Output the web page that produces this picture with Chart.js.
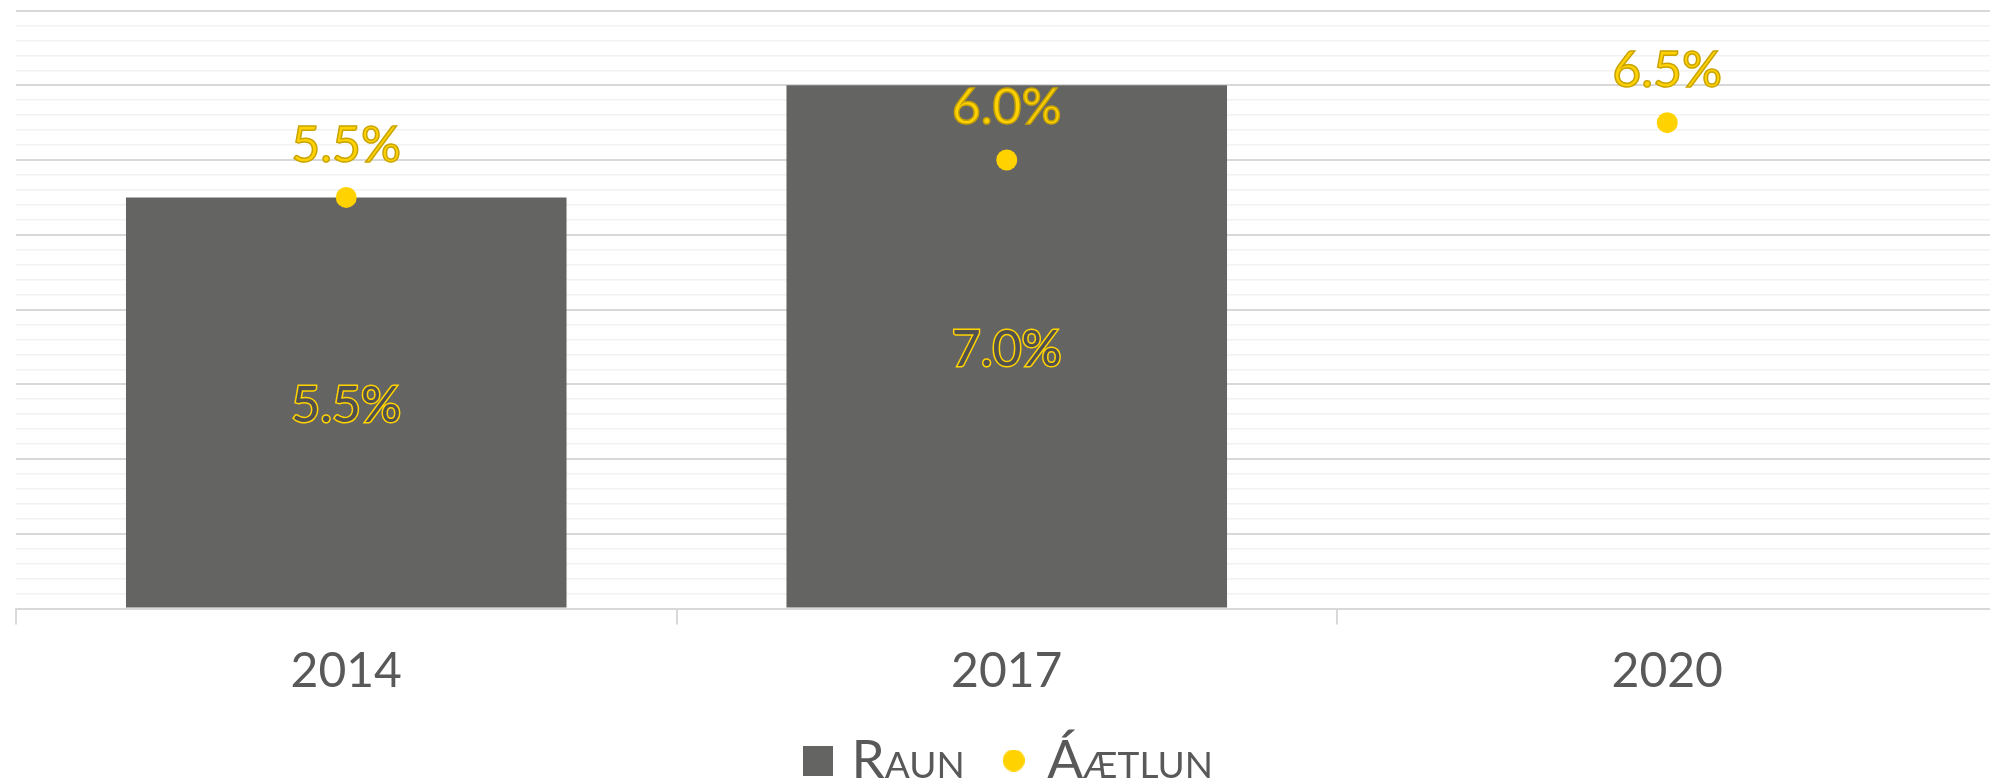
<!DOCTYPE html>
<html>
<head>
<meta charset="utf-8">
<script src="https://cdn.jsdelivr.net/npm/chart.js@4/dist/chart.umd.min.js"></script>
<style>
  html, body { margin: 0; padding: 0; background: #fff; overflow: hidden; }
  .wrap { width: 2008px; height: 782px; position: relative; }
</style>
</head>
<body>
<div class="wrap"><canvas id="chart"></canvas></div>
<script>
// data
const years = ['2014', '2017', '2020'];
const raun = [5.5, 7.0, null];
const aaetlun = [5.5, 6.0, 6.5];
const seriesNames = ['Raun', 'Áætlun'];
const yMin = 0;
const yMax = 8;

const GRAY = '#646463';
const YELLOW = '#FFD200';
const TEXT = '#595959';
const FONT = 'Lato';

// legend markers as small canvases so they can have their own size
function makeMarker(kind) {
    const c = document.createElement('canvas');
    const s = kind === 'rect' ? 30 : 22;
    c.width = s; c.height = s;
    const g = c.getContext('2d');
    if (kind === 'rect') {
        g.fillStyle = GRAY;
        g.fillRect(0, 0, s, s);
    } else {
        g.fillStyle = YELLOW;
        g.beginPath();
        g.arc(s / 2, s / 2, s / 2, 0, Math.PI * 2);
        g.fill();
    }
    return c;
}
const rectMarker = makeMarker('rect');
const dotMarker = makeMarker('dot');

// value labels on the bars and above the dots
const valueLabels = {
    id: 'valueLabels',
    afterDatasetsDraw(chart) {
        const ctx = chart.ctx;
        ctx.save();
        ctx.font = '50px ' + FONT;
        ctx.textAlign = 'center';
        ctx.textBaseline = 'middle';
        chart.data.datasets.forEach(function(ds, i) {
            const meta = chart.getDatasetMeta(i);
            meta.data.forEach(function(el, j) {
                const v = ds.data[j];
                if (v === null || v === undefined) return;
                const txt = v.toFixed(1) + '%';
                if (ds.type === 'line') {
                    const y = el.y - 52;
                    ctx.fillStyle = YELLOW;
                    ctx.fillText(txt, el.x, y);
                    ctx.lineWidth = 1.5;
                    ctx.strokeStyle = '#C9A400';
                    ctx.strokeText(txt, el.x, y);
                } else {
                    const y = (el.y + el.base) / 2 + 3;
                    ctx.lineWidth = 3;
                    ctx.strokeStyle = YELLOW;
                    ctx.strokeText(txt, el.x, y);
                    ctx.fillStyle = '#505050';
                    ctx.fillText(txt, el.x, y);
                }
            });
        });
        ctx.restore();
    }
};

// push the legend down to the bottom edge like the original
const legendPlace = {
    id: 'legendPlace',
    afterLayout(chart) {
        const lg = chart.legend;
        if (!lg) return;
        lg.top = 692;
        lg.bottom = chart.height;
        lg.height = lg.bottom - lg.top;
    }
};

const ctx = document.getElementById('chart').getContext('2d');
const chart = new Chart(ctx, {
    type: 'bar',
    data: {
        labels: years,
        datasets: [
            {
                type: 'line',
                label: seriesNames[1],
                data: aaetlun,
                showLine: false,
                pointRadius: 10.5,
                pointHoverRadius: 10.5,
                pointBackgroundColor: YELLOW,
                pointBorderWidth: 0,
                backgroundColor: YELLOW,
                borderColor: YELLOW
            },
            {
                type: 'bar',
                label: seriesNames[0],
                data: raun,
                backgroundColor: GRAY,
                borderWidth: 0,
                barPercentage: 0.667,
                categoryPercentage: 1
            }
        ]
    },
    options: {
        responsive: true,
        maintainAspectRatio: false,
        animation: false,
        layout: {
            padding: { left: 16, right: 0, top: 10, bottom: 0 }
        },
        scales: {
            x: {
                grid: {
                    offset: true,
                    drawOnChartArea: false,
                    tickLength: 16,
                    color: '#d9d9d9',
                    lineWidth: 2
                },
                border: { color: '#d9d9d9', width: 2 },
                ticks: {
                    color: TEXT,
                    padding: 23,
                    font: { family: FONT, size: 48, lineHeight: 1 }
                }
            },
            y: {
                min: yMin,
                max: yMax,
                ticks: { display: false, stepSize: 0.2 },
                border: { display: false },
                grid: {
                    drawTicks: false,
                    color: function(c) {
                        const v = c.tick.value;
                        return Math.abs(v - Math.round(v)) < 1e-6 ? '#d9d9d9' : '#f2f2f2';
                    },
                    lineWidth: function(c) {
                        const v = c.tick.value;
                        return Math.abs(v - Math.round(v)) < 1e-6 ? 2 : 1.5;
                    }
                }
            }
        },
        plugins: {
            tooltip: { enabled: false },
            legend: {
                position: 'bottom',
                maxHeight: 63.5,
                labels: {
                    usePointStyle: true,
                    boxWidth: 14,
                    boxHeight: 14,
                    padding: 42,
                    color: TEXT,
                    font: { family: FONT, size: 53, weight: 'small-caps' },
                    sort: function(a, b) { return b.datasetIndex - a.datasetIndex; },
                    generateLabels: function(chart) {
                        const items = Chart.defaults.plugins.legend.labels.generateLabels(chart);
                        items.forEach(function(it) {
                            it.pointStyle = it.datasetIndex === 1 ? rectMarker : dotMarker;
                        });
                        return items;
                    }
                }
            }
        }
    },
    plugins: [valueLabels, legendPlace]
});
</script>
</body>
</html>
